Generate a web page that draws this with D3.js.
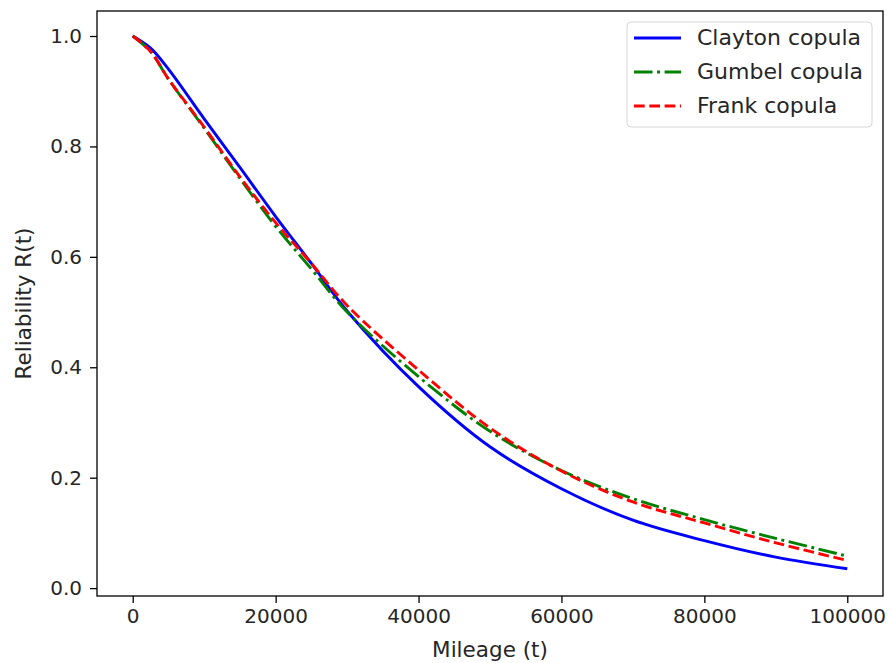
<!DOCTYPE html>
<html>
<head>
<meta charset="utf-8">
<script src="https://cdn.jsdelivr.net/npm/d3@7"></script>
<style>
  body { margin: 0; background: #fff; }
  text { font-family: "DejaVu Sans", sans-serif; fill: #262626; }
</style>
</head>
<body>
<div class="chart"></div>
<script>
var svgWidth = 890;
var svgHeight = 663;

var margin = { top: 11, right: 7, bottom: 67, left: 97 };
var width = svgWidth - margin.left - margin.right;
var height = svgHeight - margin.top - margin.bottom;

// values
var mileage = [0, 2500, 5000, 10000, 15000, 20000, 25000, 30000, 40000, 50000, 60000, 70000, 80000, 90000, 100000];
var clayton = [1.0, 0.978, 0.94, 0.85, 0.762, 0.673, 0.588, 0.502, 0.365, 0.256, 0.180, 0.123, 0.086, 0.056, 0.035];
var gumbel  = [1.0, 0.972, 0.922, 0.833, 0.742, 0.655, 0.578, 0.500, 0.383, 0.284, 0.213, 0.162, 0.124, 0.090, 0.058];
var frank   = [1.0, 0.972, 0.922, 0.835, 0.745, 0.662, 0.588, 0.512, 0.395, 0.290, 0.212, 0.156, 0.118, 0.082, 0.050];

var xTicks = [0, 20000, 40000, 60000, 80000, 100000];
var yTicks = [0.0, 0.2, 0.4, 0.6, 0.8, 1.0];

var series = [
  { name: "Clayton copula", values: clayton, color: "#0000ff", dash: null },
  { name: "Gumbel copula", values: gumbel, color: "#008000", dash: "18.5,4.6,2.9,4.6" },
  { name: "Frank copula", values: frank, color: "#ff0000", dash: "10.7,4.6" }
];

var svg = d3.select(".chart")
  .append("svg")
  .attr("width", svgWidth)
  .attr("height", svgHeight);

var chartGroup = svg.append("g")
  .attr("transform", `translate(${margin.left}, ${margin.top})`);

var xScale = d3.scaleLinear().domain([-5000, 105000]).range([0, width]);
var yScale = d3.scaleLinear().domain([-0.0143, 1.0453]).range([height, 0]);

// axes
var bottomAxis = d3.axisBottom(xScale).tickValues(xTicks).tickFormat(d3.format("d"))
  .tickSize(7).tickPadding(6);
var leftAxis = d3.axisLeft(yScale).tickValues(yTicks).tickFormat(d3.format(".1f"))
  .tickSize(7).tickPadding(8);

var xAxisG = chartGroup.append("g")
  .attr("transform", `translate(0,${height})`)
  .call(bottomAxis);
var yAxisG = chartGroup.append("g").call(leftAxis);

[xAxisG, yAxisG].forEach(g => {
  g.select(".domain").remove();
  g.selectAll(".tick line").attr("stroke", "#000").attr("stroke-width", 1.3);
  g.selectAll(".tick text").attr("font-size", "20px").attr("fill", "#262626")
    .style("font-family", "DejaVu Sans");
});

// lines
var line = d3.line()
  .x((d, i) => xScale(mileage[i]))
  .y(d => yScale(d))
  .curve(d3.curveCatmullRom.alpha(0.5));

series.forEach(s => {
  chartGroup.append("path")
    .datum(s.values)
    .attr("d", line)
    .attr("fill", "none")
    .attr("stroke", s.color)
    .attr("stroke-width", 2.9)
    .attr("stroke-dasharray", s.dash);
});

// frame
chartGroup.append("rect")
  .attr("width", width)
  .attr("height", height)
  .attr("fill", "none")
  .attr("stroke", "#000")
  .attr("stroke-width", 1.3);

// legend
var legend = chartGroup.append("g")
  .attr("transform", `translate(${627 - margin.left}, ${22 - margin.top})`);

legend.append("rect")
  .attr("width", 245)
  .attr("height", 105)
  .attr("rx", 4)
  .attr("fill", "#fff")
  .attr("fill-opacity", 0.8)
  .attr("stroke", "#d6d6d6")
  .attr("stroke-width", 1);

series.forEach((s, i) => {
  var y = 16 + i * 34;
  legend.append("line")
    .attr("x1", 7).attr("x2", 54)
    .attr("y1", y).attr("y2", y)
    .attr("stroke", s.color)
    .attr("stroke-width", 2.9)
    .attr("stroke-dasharray", s.dash);
  legend.append("text")
    .attr("x", 70)
    .attr("y", y + 7)
    .attr("font-size", "22px")
    .text(s.name);
});

// axis labels
svg.append("text")
  .attr("transform", `translate(31, ${margin.top + height / 2}) rotate(-90)`)
  .attr("text-anchor", "middle")
  .attr("font-size", "21.5px")
  .text("Reliability R(t)");

svg.append("text")
  .attr("x", margin.left + width / 2)
  .attr("y", 657)
  .attr("text-anchor", "middle")
  .attr("font-size", "21.5px")
  .text("Mileage (t)");
</script>
</body>
</html>
